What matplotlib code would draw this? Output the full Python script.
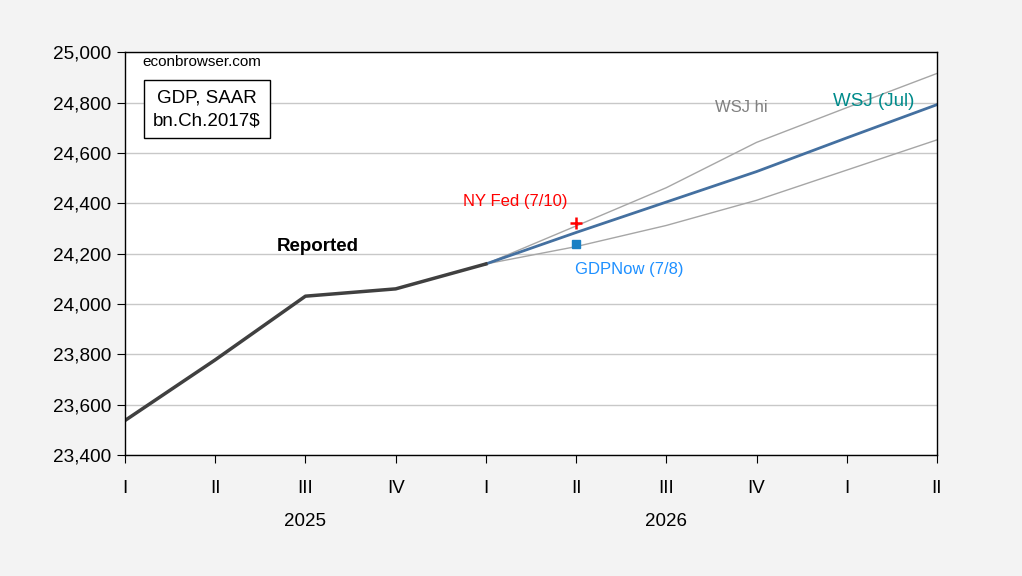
# GDP, reported and forecasts (WSJ July survey, NY Fed, GDPNow)

import matplotlib.pyplot as plt
import matplotlib.transforms as mtransforms

plt.rcParams['font.family'] = ['Liberation Sans', 'DejaVu Sans']

# quarter labels 2025Q1 .. 2027Q2
quarters = ['I', 'II', 'III', 'IV', 'I', 'II', 'III', 'IV', 'I', 'II']
years = ['2025', '2026']

# reported GDP, bn.Ch.2017$ SAAR, 2025Q1-2026Q1
reported = [23537, 23778, 24031, 24060, 24159]
# WSJ July survey paths, 2026Q1-2027Q2
wsj_mean = [24159, 24284, 24405, 24526, 24660, 24792]
wsj_hi = [24159, 24310, 24462, 24642, 24780, 24916]
wsj_lo = [24159, 24228, 24312, 24412, 24532, 24652]
# nowcasts for 2026Q2
nyfed = 24321
gdpnow = 24238

x_all = list(range(len(quarters)))
x_rep = x_all[:len(reported)]
x_fc = x_all[len(reported) - 1:]

fig = plt.figure(figsize=(10.22, 5.76), dpi=100, facecolor='#f3f3f3')
ax = fig.add_axes([0.1223, 0.2101, 0.7945, 0.6991])
ax.set_facecolor('white')

ax.plot(x_fc, wsj_hi, color='#a6a6a6', lw=1)
ax.plot(x_fc, wsj_lo, color='#a6a6a6', lw=1)
ax.plot(x_fc, wsj_mean, color='#4470a0', lw=2)
ax.plot(x_rep, reported, color='#404040', lw=2.5)
ax.plot([5], [nyfed], marker='+', color='red', ms=8, mew=1.8, ls='none')
ax.plot([5], [gdpnow], marker='s', color='#1a80c4', ms=6, ls='none')

ax.set_xlim(0, 9)
ax.set_ylim(23400, 25000)
ax.set_yticks(range(23400, 25001, 200))
ax.set_yticklabels([f'{v:,}' for v in range(23400, 25001, 200)])
ax.grid(True, axis='y', color='#c8c8c8', lw=1)
ax.set_axisbelow(True)

ax.set_xticks(x_all)
ax.set_xticklabels(quarters)
ax.set_xticks([0, 4, 8, 9], minor=True)
ax.tick_params(axis='x', which='major', length=6, pad=12, labelsize=13.5, color='black')
ax.tick_params(axis='x', which='minor', length=15)
ax.tick_params(axis='y', length=6, pad=4, labelsize=13.7)
for s in ax.spines.values():
    s.set_color('black')
    s.set_linewidth(1)

# year labels under the quarters
trans = mtransforms.blended_transform_factory(ax.transData, ax.transAxes)
for i, yr in enumerate(years):
    ax.text(2 + 4 * i, -0.165, yr, transform=trans, ha='center', va='center', fontsize=13.5)

ax.text(0.022, 0.976, 'econbrowser.com', transform=ax.transAxes, ha='left', va='center', fontsize=11)
ax.text(0.101, 0.859, 'GDP, SAAR\nbn.Ch.2017$', transform=ax.transAxes, ha='center', va='center',
        fontsize=13.5, linespacing=1.45,
        bbox=dict(boxstyle='square,pad=0.5', facecolor='white', edgecolor='black', lw=1))

ax.text(2.14, 24230, 'Reported', ha='center', va='center', fontsize=13.5, fontweight='bold')
ax.text(4.33, 24406, 'NY Fed (7/10)', ha='center', va='center', fontsize=12, color='red')
ax.text(5.59, 24137, 'GDPNow (7/8)', ha='center', va='center', fontsize=12, color='#1e90ff')
ax.text(6.83, 24780, 'WSJ hi', ha='center', va='center', fontsize=12, color='#808080')
ax.text(8.3, 24803, 'WSJ (Jul)', ha='center', va='center', fontsize=13.5, color='#008b8b')

fig.savefig('out.png', dpi=100, facecolor=fig.get_facecolor())
